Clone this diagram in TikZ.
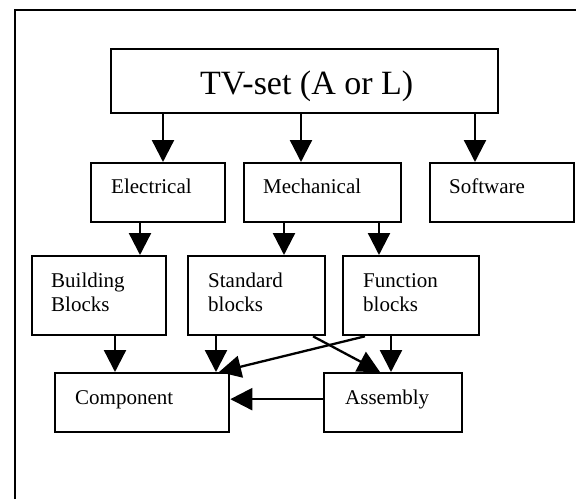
\documentclass[tikz,border=0pt]{standalone}
\usepackage{fontspec}
\setmainfont{Liberation Serif}
\usetikzlibrary{arrows.meta}
\begin{document}
\begin{tikzpicture}[x=1pt,y=-1pt,
  box/.style={draw,line width=2.3pt,inner sep=0pt,anchor=north west},
  lbl/.style={anchor=base west,inner sep=0pt,font=\fontsize{21}{24}\selectfont,align=left},
  big/.style={anchor=base west,inner sep=0pt,font=\fontsize{34}{38}\selectfont},
  arr/.style={line width=2.3pt,-{Triangle[length=22pt,width=22pt]}}]
\useasboundingbox (0,0) rectangle (576,499);
\draw[line width=2.5pt] (15,499) -- (15,10) -- (576,10);
% boxes
\node[box,minimum width=387pt,minimum height=64pt] (tv) at (110,48) {};
\node[box,minimum width=134pt,minimum height=59pt] (el) at (90,162) {};
\node[box,minimum width=157pt,minimum height=59pt] (me) at (243,162) {};
\node[box,minimum width=144pt,minimum height=59pt] (sw) at (429,162) {};
\node[box,minimum width=134pt,minimum height=79pt] (bb) at (31,255) {};
\node[box,minimum width=137pt,minimum height=79pt] (sb) at (187,255) {};
\node[box,minimum width=136pt,minimum height=79pt] (fb) at (342,255) {};
\node[box,minimum width=174pt,minimum height=59pt] (cp) at (54,372) {};
\node[box,minimum width=138pt,minimum height=59pt] (as) at (323,372) {};
% labels
\node[big] (tvt) at (200,94) {TV-set (A or L)};
\node[lbl] (elt) at (111,193) {Electrical};
\node[lbl] (met) at (263,193) {Mechanical};
\node[lbl] (swt) at (449,193) {Software};
\node[lbl,anchor=north west] (bbt) at (51,273) {Building\\Blocks};
\node[lbl,anchor=north west] (sbt) at (208,273) {Standard\\blocks};
\node[lbl,anchor=north west] (fbt) at (363,273) {Function\\blocks};
\node[lbl] (cpt) at (75,404) {Component};
\node[lbl] (ast) at (345,404) {Assembly};
% arrows
\draw[arr] (tv.south -| 163,0) -- (el.north -| 163,0);
\draw[arr] (tv.south -| 301,0) -- (me.north -| 301,0);
\draw[arr] (tv.south -| 475,0) -- (sw.north -| 475,0);
\draw[arr] (el.south -| 140,0) -- (bb.north -| 140,0);
\draw[arr] (me.south -| 284,0) -- (sb.north -| 284,0);
\draw[arr] (me.south -| 379,0) -- (fb.north -| 379,0);
\draw[arr] (bb.south -| 115,0) -- (cp.north -| 115,0);
\draw[arr] (sb.south -| 216,0) -- (cp.north -| 216,0);
\draw[arr] (fb.south -| 391,0) -- (as.north -| 391,0);
\draw[arr] (fb.south -| 365,0) -- (cp.north -| 219,0);
\draw[arr] (sb.south -| 313,0) -- (as.north -| 380,0);
\draw[arr] ([yshift=3.5pt]as.west) -- ([yshift=3.5pt]cp.east);
\end{tikzpicture}
\end{document}
